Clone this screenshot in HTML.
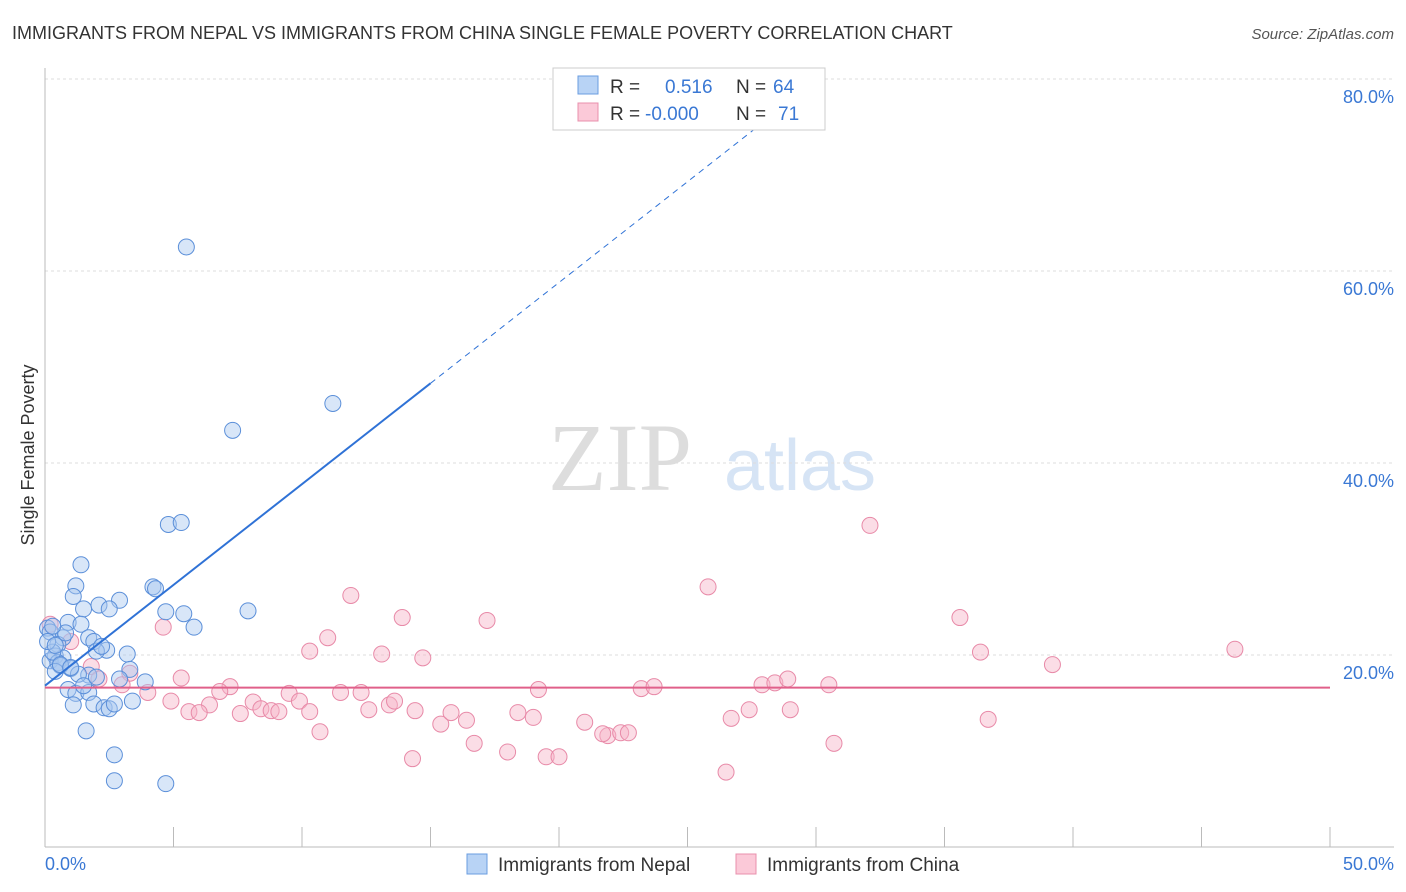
<!DOCTYPE html>
<html><head><meta charset="utf-8"><style>
body{margin:0;background:#fff;font-family:"Liberation Sans",sans-serif;}
svg{display:block}
</style></head><body>
<svg id="chart" width="1406" height="892">
<text x="12" y="39" font-size="18" fill="#333">IMMIGRANTS FROM NEPAL VS IMMIGRANTS FROM CHINA SINGLE FEMALE POVERTY CORRELATION CHART</text>
<text x="1394" y="39" font-size="15" fill="#555" font-style="italic" text-anchor="end">Source: ZipAtlas.com</text>
<text x="620" y="490" font-size="96" fill="#ddd" font-family="Liberation Serif" text-anchor="middle">ZIP</text>
<text x="800" y="490" font-size="72" fill="#d6e4f5" text-anchor="middle">atlas</text>
<g id="grid"></g><g id="axes"></g><g id="marks"></g>
<text transform="translate(34,455) rotate(-90)" font-size="18" fill="#333" text-anchor="middle">Single Female Poverty</text>
<text x="45" y="870" font-size="18" fill="#3a78d4">0.0%</text>
<text x="1394" y="870" font-size="18" fill="#3a78d4" text-anchor="end">50.0%</text>
<g>
<rect x="553" y="68" width="272" height="62" fill="#fff" stroke="#ccc"/>
<rect x="578" y="76" width="20" height="18" fill="#b8d3f5" stroke="#6a9de0"/>
<rect x="578" y="103" width="20" height="18" fill="#fbc9d8" stroke="#e890ad"/>
<text x="610" y="93" font-size="19" fill="#333">R =</text><text x="665" y="93" font-size="19" fill="#3a78d4">0.516</text>
<text x="736" y="93" font-size="19" fill="#333">N =</text><text x="773" y="93" font-size="19" fill="#3a78d4">64</text>
<text x="610" y="120" font-size="19" fill="#333">R =</text><text x="645" y="120" font-size="19" fill="#3a78d4">-0.000</text>
<text x="736" y="120" font-size="19" fill="#333">N =</text><text x="778" y="120" font-size="19" fill="#3a78d4">71</text>
</g>
<g>
<rect x="467" y="854" width="20" height="20" fill="#b8d3f5" stroke="#6a9de0"/>
<text x="498" y="871" font-size="19" fill="#333">Immigrants from Nepal</text>
<rect x="736" y="854" width="20" height="20" fill="#fbc9d8" stroke="#e890ad"/>
<text x="767" y="871" font-size="19" fill="#333">Immigrants from China</text>
</g>
</svg>
<script>
const yTicks=[20,40,60,80];
const yTickLabels=["20.0%","40.0%","60.0%","80.0%"];
const xTicks=[0,5,10,15,20,25,30,35,40,45,50];
const nepalX=[5.5,11.2,7.3,4.8,5.3,1.4,4.2,4.3,1.2,1.1,2.9,2.1,2.5,1.5,4.7,5.4,7.9,0.9,1.4,5.8,0.1,0.2,0.7,1.7,1.9,0.5,2.4,2.0,3.2,0.4,0.7,0.2,0.5,0.6,1.0,3.3,0.4,1.7,2.9,3.9,0.9,1.2,1.7,1.1,1.9,2.3,2.5,2.7,1.6,2.7,2.7,4.7,0.3,0.1,0.6,1.3,2.2,0.8,1.5,0.3,2.0,1.0,3.4,0.4];
const nepalY=[62.5,46.2,43.4,33.6,33.8,29.4,27.1,26.9,27.2,26.1,25.7,25.2,24.8,24.8,24.5,24.3,24.6,23.4,23.2,22.9,22.8,22.4,21.8,21.8,21.4,21.1,20.5,20.4,20.1,19.9,19.7,19.4,19.2,18.9,18.6,18.5,18.3,17.9,17.5,17.2,16.4,16.0,16.1,14.8,14.9,14.5,14.4,14.9,12.1,9.6,6.9,6.6,20.3,21.4,19.0,18.0,20.9,22.3,16.8,23.0,17.7,18.7,15.2,21.0];
const chinaX=[32.1,25.8,11.9,13.9,17.2,35.6,4.6,11.0,46.3,36.4,10.3,13.1,14.7,39.2,0.2,1.0,1.8,2.1,3.3,5.3,3.0,4.0,4.9,7.2,6.8,8.1,6.4,5.6,6.0,7.6,8.4,8.8,9.1,9.5,9.9,10.3,10.7,11.5,12.3,12.6,13.4,13.6,14.4,15.4,15.8,16.4,16.7,18.4,19.0,18.0,19.5,20.0,21.0,19.2,21.9,21.7,22.4,22.7,23.2,23.7,26.7,27.4,27.9,28.4,28.9,29.0,30.5,30.7,26.5,14.3,36.7];
const chinaY=[33.5,27.1,26.2,23.9,23.6,23.9,22.9,21.8,20.6,20.3,20.4,20.1,19.7,19.0,23.2,21.4,18.8,17.5,18.1,17.6,16.9,16.1,15.2,16.7,16.2,15.1,14.8,14.1,14.0,13.9,14.4,14.2,14.1,16.0,15.2,14.1,12.0,16.1,16.1,14.3,14.8,15.2,14.2,12.8,14.0,13.2,10.8,14.0,13.5,9.9,9.4,9.4,13.0,16.4,11.6,11.8,11.9,11.9,16.5,16.7,13.4,14.3,16.9,17.1,17.5,14.3,16.9,10.8,7.8,9.2,13.3];
const nepalLine=[16.8,2.1], chinaLine=16.6;
const NS="http://www.w3.org/2000/svg";
const X0=45,X1=1330,Y0=847,YS=9.6;
const sx=v=>X0+(X1-X0)*v/50, sy=v=>Y0-v*YS;
function mk(p,t,a){const e=document.createElementNS(NS,t);for(const k in a)e.setAttribute(k,a[k]);p.appendChild(e);return e;}
const grid=document.getElementById('grid'),axes=document.getElementById('axes'),marks=document.getElementById('marks');
yTicks.forEach((v,i)=>{
 const l=mk(grid,'line',{x1:X0,x2:1394,y1:sy(v),y2:sy(v),stroke:'#ddd','stroke-dasharray':'3,3'});
 
 
 const t=mk(axes,'text',{x:1394,y:sy(v)+24,'font-size':18,fill:'#3a78d4','text-anchor':'end'});t.textContent=yTickLabels[i];
 
 
});
const xa=mk(axes,'line',{x1:X0,x2:1394,y1:Y0,y2:Y0,stroke:'#bbb'});


const ya=mk(axes,'line',{x1:X0,x2:X0,y1:68,y2:Y0,stroke:'#bbb'});


xTicks.forEach(v=>{const t=mk(axes,'line',{x1:sx(v),x2:sx(v),y1:Y0,y2:Y0-20,stroke:'#bbb'});
 
 });
function pts(xs,ys,fill,stroke,name){xs.forEach((x,i)=>{const c=mk(marks,'circle',{cx:sx(x),cy:sy(ys[i]),r:8,fill:fill,'fill-opacity':0.45,stroke:stroke,'stroke-width':1});
 
 });}
pts(chinaX,chinaY,'#f7b3c8','#e88aa8','china-point');
pts(nepalX,nepalY,'#a9c8f0','#5b8fd9','nepal-point');
const cl=mk(marks,'line',{x1:sx(0),x2:sx(50),y1:sy(chinaLine),y2:sy(chinaLine),stroke:'#e0608a','stroke-width':2});


const f=x=>nepalLine[0]+nepalLine[1]*x;
const nl=mk(marks,'line',{x1:sx(0),x2:sx(15),y1:sy(f(0)),y2:sy(f(15)),stroke:'#2f72d6','stroke-width':2});


const nd=mk(marks,'line',{x1:sx(15),x2:sx(30.2),y1:sy(f(15)),y2:sy(f(30.2)),stroke:'#2f72d6','stroke-width':1,'stroke-dasharray':'6,5'});


</script>
</body></html>
